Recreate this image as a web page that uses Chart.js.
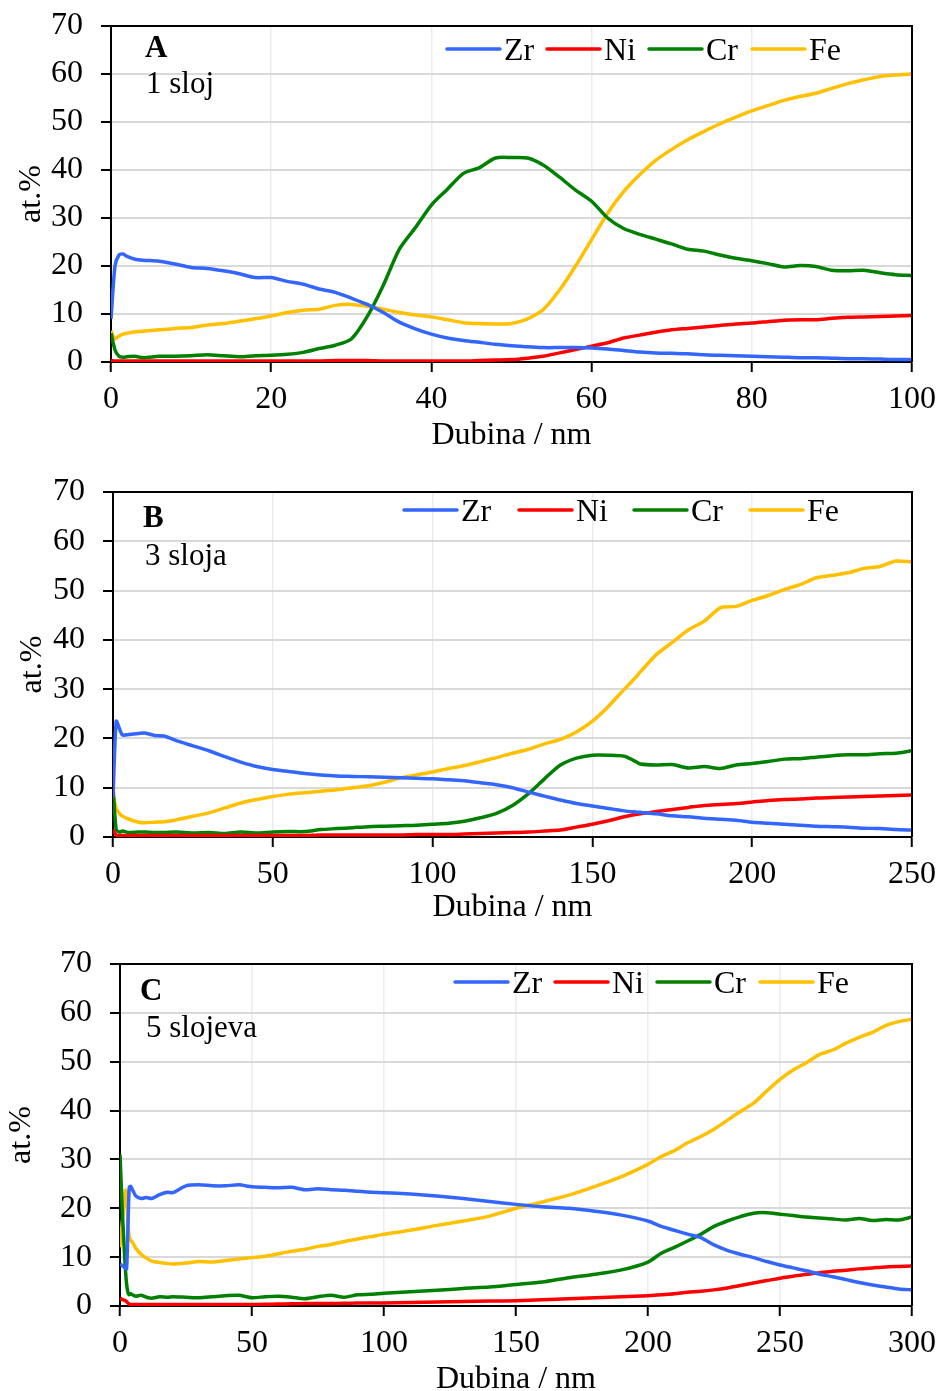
<!DOCTYPE html>
<html><head><meta charset="utf-8">
<script src="https://cdn.jsdelivr.net/npm/chart.js@4/dist/chart.umd.min.js"></script>
<style>
html,body{margin:0;padding:0;background:#fff;overflow:hidden;width:941px;height:1391px;}
canvas{position:absolute;left:0;display:block;}
</style></head><body>
<canvas id="cA"></canvas>
<canvas id="cB"></canvas>
<canvas id="cC"></canvas>
<script>
// ---------- DATA ----------
const elements = ['Zr', 'Ni', 'Cr', 'Fe'];
const yTicks = [0, 10, 20, 30, 40, 50, 60, 70];

// Panel A: 1 sloj
const depthA = [0,0.5,1,1.5,2,3,4,6,8,10,12,14,16,18,20,22,24,26,28,30,32,34,36,38,40,42,44,46,48,50,52,54,56,58,60,62,64,66,68,70,72,74,76,78,80,82,84,86,88,90,92,94,96,98,100];
const zrA = [9,20,22.3,22.5,22,21.4,21.2,21,20.4,19.7,19.5,19.0,18.4,17.6,17.6,16.8,16.2,15.2,14.5,13.3,12,10.3,8.3,6.9,5.8,5.0,4.5,4.1,3.7,3.4,3.2,3.0,3.0,3.0,2.9,2.7,2.4,2.1,1.9,1.8,1.7,1.5,1.4,1.3,1.2,1.1,1.0,0.9,0.9,0.8,0.7,0.7,0.6,0.5,0.5];
const niA = [0.3,0.2,0.2,0.2,0.2,0.2,0.2,0.2,0.2,0.2,0.2,0.2,0.2,0.2,0.2,0.2,0.2,0.2,0.3,0.3,0.3,0.2,0.2,0.2,0.2,0.2,0.2,0.3,0.4,0.5,0.8,1.2,1.9,2.6,3.3,4.0,5.0,5.6,6.2,6.7,7.0,7.3,7.6,7.9,8.1,8.4,8.7,8.8,8.8,9.1,9.3,9.4,9.5,9.6,9.7];
const crA = [6,2.5,1.2,1.0,1.1,1.2,0.9,1.2,1.2,1.3,1.5,1.3,1.1,1.3,1.4,1.6,2.0,2.8,3.5,4.8,9.5,16,23.5,28,32.7,36,39.3,40.5,42.5,42.6,42.5,41,38.5,35.8,33.5,30,27.8,26.6,25.6,24.6,23.5,23.1,22.3,21.6,21.1,20.5,19.8,20.1,19.9,19.1,19.0,19.1,18.6,18.2,18.0];
const feA = [6.5,4.8,5.4,5.8,6.0,6.3,6.4,6.7,7.0,7.2,7.7,8.0,8.5,9.0,9.6,10.3,10.8,11.0,11.8,12.0,11.6,11.0,10.3,9.8,9.4,8.8,8.2,8.0,7.9,8.0,9.0,11.0,15.0,20.0,25.5,31.0,35.5,39.0,42.0,44.3,46.3,48.0,49.6,51.0,52.3,53.4,54.5,55.3,56.0,57.0,58.0,58.8,59.5,59.8,60.0];

// Panel B: 3 sloja
const depthB = [0,1,2,3,5,8,10,13,16,20,25,30,35,40,45,50,55,60,65,70,75,80,85,90,95,100,105,110,115,120,125,130,135,140,145,150,155,160,163,165,170,175,180,185,190,195,200,205,210,215,220,225,230,235,240,245,250];
const zrB = [8,23.5,22,20.7,20.8,21,21.1,20.6,20.5,19.5,18.5,17.5,16.3,15.2,14.3,13.7,13.3,12.9,12.6,12.4,12.3,12.2,12.1,12.0,11.9,11.8,11.6,11.4,11.0,10.6,10.0,9.1,8.3,7.5,6.8,6.3,5.8,5.3,5.1,5.0,4.7,4.3,4.1,3.8,3.6,3.4,3.0,2.8,2.6,2.4,2.2,2.1,2.0,1.8,1.7,1.5,1.4];
const niB = [1.5,0.4,0.3,0.3,0.3,0.3,0.3,0.3,0.3,0.3,0.3,0.3,0.3,0.3,0.3,0.3,0.3,0.3,0.4,0.4,0.4,0.4,0.4,0.4,0.5,0.5,0.5,0.6,0.7,0.8,0.9,1.0,1.2,1.4,2.0,2.6,3.3,4.1,4.5,4.7,5.2,5.6,6.0,6.4,6.6,6.8,7.1,7.4,7.6,7.7,7.9,8.0,8.1,8.2,8.3,8.4,8.5];
const crB = [10,1.5,1.0,1.2,0.9,1.0,1.0,0.9,0.9,1.0,0.8,0.9,0.7,1.0,0.8,1.0,1.1,1.1,1.5,1.7,1.9,2.1,2.2,2.3,2.4,2.6,2.8,3.2,3.9,4.8,6.4,8.8,11.8,14.6,16.0,16.6,16.6,16.4,15.5,14.8,14.6,14.7,14.0,14.3,13.9,14.6,14.9,15.3,15.8,15.9,16.2,16.5,16.7,16.7,16.9,17.0,17.5];
const feB = [8.9,5.8,4.8,4.2,3.6,3.0,2.9,3.0,3.1,3.5,4.2,4.9,5.9,6.9,7.6,8.2,8.7,9.0,9.3,9.6,10.0,10.4,11.1,12.0,12.6,13.2,13.9,14.5,15.3,16.1,17.0,17.8,18.9,19.8,21.3,23.5,26.5,30.0,32.0,33.5,37.0,39.5,42.0,43.8,46.5,46.8,48.0,49.0,50.2,51.2,52.6,53.1,53.6,54.5,54.9,56.0,55.8];

// Panel C: 5 slojeva
const depthC = [0,1,2,2.5,3,3.5,4,5,6,8,10,12,15,18,20,25,30,35,40,45,50,55,60,65,70,75,80,85,90,95,100,110,120,130,140,150,160,170,180,190,200,205,210,215,220,225,230,235,240,245,250,255,260,265,270,275,280,285,290,295,300];
const zrC = [8.6,8.2,7.8,7.6,16,24.3,24.5,23.5,22.5,22.0,22.2,22.0,22.8,23.3,23.2,24.6,24.8,24.6,24.6,24.8,24.4,24.3,24.2,24.3,23.8,24.0,23.8,23.7,23.5,23.3,23.2,22.9,22.5,22.0,21.4,20.8,20.3,20.0,19.4,18.6,17.4,16.3,15.5,14.7,14.0,12.5,11.4,10.6,9.9,9.1,8.4,7.8,7.2,6.5,6.0,5.4,4.8,4.3,3.9,3.5,3.3];
const niC = [1.6,1.3,1.1,0.9,0.6,0.4,0.3,0.3,0.3,0.3,0.3,0.3,0.3,0.3,0.3,0.3,0.3,0.3,0.3,0.3,0.3,0.35,0.4,0.45,0.5,0.5,0.5,0.55,0.6,0.6,0.6,0.7,0.8,0.9,1.0,1.1,1.3,1.5,1.7,1.9,2.1,2.3,2.5,2.8,3.0,3.3,3.7,4.2,4.7,5.2,5.7,6.1,6.5,6.8,7.1,7.3,7.6,7.8,8.0,8.1,8.2];
const crC = [31,18,8,4.5,2.8,2.3,2.5,2.2,2.0,2.2,1.8,1.6,1.9,1.8,1.9,1.8,1.7,1.9,2.1,2.2,1.7,1.9,2.0,1.8,1.5,1.9,2.2,1.8,2.3,2.4,2.6,2.9,3.2,3.6,3.9,4.4,4.9,5.8,6.5,7.4,9.0,10.8,12.0,13.3,14.7,16.3,17.4,18.3,19.0,19.1,18.8,18.5,18.2,18.0,17.8,17.6,17.9,17.5,17.7,17.6,18.2];
const feC = [12,18,23.7,23.5,17,14.2,13.5,12.8,11.8,10.6,9.8,9.2,8.9,8.7,8.6,8.8,9.1,9.0,9.3,9.6,9.9,10.2,10.7,11.2,11.6,12.2,12.6,13.2,13.7,14.2,14.7,15.5,16.5,17.4,18.4,20.0,21.3,22.7,24.5,26.5,29.0,30.6,31.8,33.4,34.7,36.2,38.0,39.8,41.5,44.0,46.4,48.3,49.8,51.5,52.4,53.8,55.0,56.0,57.4,58.2,58.7];

// ---------- STYLE ----------
const COLORS = {Zr:'#3366FF', Ni:'#FF0000', Cr:'#008000', Fe:'#FFC000'};
const FONT = '"Liberation Serif", "Times New Roman", serif';
const FS = 32;
const LH = FS * 1.2;

const panels = [
  {id:'cA', top:0, height:460, area:{l:111, r:912, t:26, b:362}, xMax:100, xStep:20,
   depth:depthA, series:[zrA,niA,crA,feA], letter:'A', sub:'1 sloj',
   letterPos:[145,57], subPos:[146,93], legendX:[447,547,649,752], legendY:49, yTitleX:32, xTitleY:436},
  {id:'cB', top:460, height:470, area:{l:113, r:912, t:492, b:837}, xMax:250, xStep:50,
   depth:depthB, series:[zrB,niB,crB,feB], letter:'B', sub:'3 sloja',
   letterPos:[143,527], subPos:[145,565], legendX:[404,519,634,750], legendY:510, yTitleX:33, xTitleY:908},
  {id:'cC', top:930, height:480, area:{l:120, r:912, t:964, b:1306}, xMax:300, xStep:50,
   depth:depthC, series:[zrC,niC,crC,feC], letter:'C', sub:'5 slojeva',
   letterPos:[140,1000], subPos:[146,1037], legendX:[455,555,657,760], legendY:982, yTitleX:22, xTitleY:1380}
];

const framePlugin = {
  id:'frame',
  afterDraw(chart, args, opts){
    const {ctx, chartArea:a} = chart;
    const p = opts.panel;
    ctx.save();
    ctx.strokeStyle = '#000'; ctx.lineWidth = 2;
    ctx.beginPath();
    ctx.moveTo(a.left, a.top); ctx.lineTo(a.right, a.top); ctx.lineTo(a.right, a.bottom);
    ctx.stroke();
    ctx.fillStyle = '#000';
    ctx.textBaseline = 'alphabetic'; ctx.textAlign = 'left';
    ctx.font = 'bold 31px ' + FONT;
    ctx.fillText(p.letter, p.letterPos[0], p.letterPos[1] - p.top);
    ctx.font = '31px ' + FONT;
    ctx.fillText(p.sub, p.subPos[0], p.subPos[1] - p.top);
    const ly = p.legendY - p.top;
    chart.data.datasets.forEach((ds, i) => {
      const x0 = p.legendX[i];
      ctx.strokeStyle = ds.borderColor; ctx.lineWidth = 3.5; ctx.lineCap = 'round';
      ctx.beginPath(); ctx.moveTo(x0, ly); ctx.lineTo(x0 + 53, ly); ctx.stroke();
      ctx.font = FS + 'px ' + FONT;
      ctx.fillStyle = '#000';
      ctx.fillText(ds.label, x0 + 57, ly + 11);
    });
    ctx.restore();
  }
};

function zeroPad(s){ s.paddingTop = 0; s.paddingBottom = 0; s.paddingLeft = 0; s.paddingRight = 0; }

panels.forEach(p => {
  const cv = document.getElementById(p.id);
  cv.width = 941; cv.height = p.height;
  cv.style.top = p.top + 'px';
  const areaTop = p.area.t - p.top;
  const areaBottom = p.area.b - p.top;
  const xScaleH = p.height - areaBottom;
  const xTitlePad = p.height - LH/2 - (p.xTitleY - p.top);
  const yTitlePad = p.yTitleX - LH/2;
  new Chart(cv, {
    type:'line',
    data:{
      datasets: elements.map((el, k) => ({
        label: el,
        data: p.depth.map((d, i) => ({x:d, y:p.series[k][i]})),
        borderColor: COLORS[el],
        backgroundColor: COLORS[el],
        borderWidth: 3.5,
        pointRadius: 0,
        tension: 0.25,
        fill: false
      }))
    },
    options:{
      responsive:false,
      animation:false,
      devicePixelRatio:1,
      layout:{padding:{left:0, right:941 - p.area.r, top:areaTop, bottom:0}},
      plugins:{legend:{display:false}, tooltip:{enabled:false}, frame:{panel:p}},
      scales:{
        x:{
          type:'linear', min:0, max:p.xMax,
          ticks:{stepSize:p.xStep, color:'#000', font:{family:FONT, size:FS}, padding:8, maxRotation:0},
          grid:{color:'#ececec', lineWidth:1.5, tickColor:'#000', tickLength:10, tickWidth:2},
          border:{color:'#000', width:2},
          title:{display:true, text:'Dubina / nm', color:'#000', font:{family:FONT, size:FS}, padding:{top:0, bottom:xTitlePad}},
          afterFit(s){ s.height = xScaleH; zeroPad(s); }
        },
        y:{
          type:'linear', min:0, max:70,
          afterBuildTicks(s){ s.ticks = yTicks.map(v => ({value:v})); },
          ticks:{color:'#000', font:{family:FONT, size:FS}, padding:18},
          grid:{color:'#d9d9d9', lineWidth:2, tickColor:'#000', tickLength:10, tickWidth:2},
          border:{color:'#000', width:2},
          title:{display:true, text:'at.%', color:'#000', font:{family:FONT, size:FS}, padding:{top:yTitlePad, bottom:0}},
          afterFit(s){ s.width = p.area.l; zeroPad(s); }
        }
      }
    },
    plugins:[framePlugin]
  });
});
</script>
</body></html>
